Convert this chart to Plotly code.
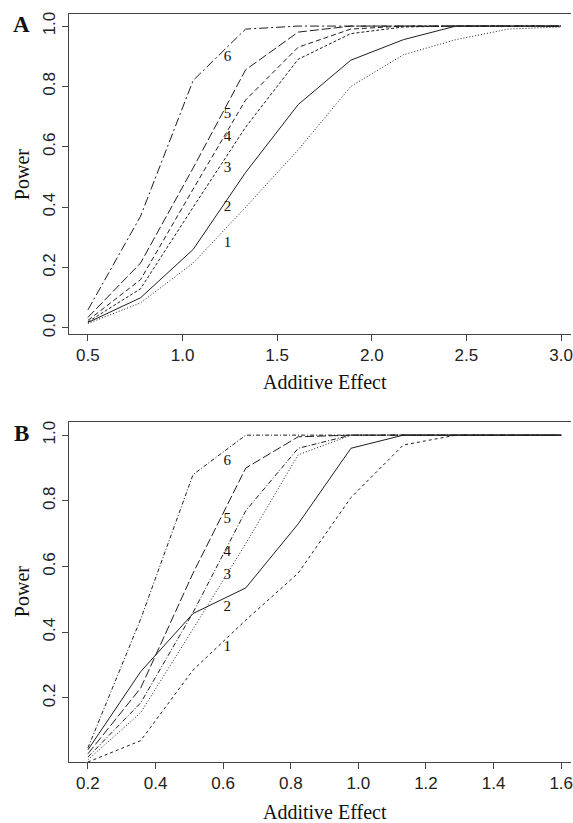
import plotly.graph_objects as go

# ---------------- data ----------------
effect_a = [0.5, 0.778, 1.056, 1.333, 1.611, 1.889, 2.167, 2.444, 2.722, 3.0]
power_a_1 = [0.015, 0.083, 0.215, 0.40, 0.59, 0.80, 0.905, 0.955, 0.99, 0.997]
power_a_2 = [0.018, 0.10, 0.26, 0.515, 0.74, 0.887, 0.955, 1.0, 1.0, 1.0]
power_a_3 = [0.02, 0.13, 0.40, 0.665, 0.89, 0.975, 0.997, 1.0, 1.0, 1.0]
power_a_4 = [0.025, 0.16, 0.46, 0.755, 0.93, 0.99, 1.0, 1.0, 1.0, 1.0]
power_a_5 = [0.035, 0.215, 0.53, 0.855, 0.98, 1.0, 1.0, 1.0, 1.0, 1.0]
power_a_6 = [0.06, 0.37, 0.82, 0.99, 1.0, 1.0, 1.0, 1.0, 1.0, 1.0]

effect_b = [0.2, 0.356, 0.511, 0.667, 0.822, 0.978, 1.133, 1.289, 1.444, 1.6]
power_b_1 = [0.005, 0.07, 0.285, 0.437, 0.58, 0.81, 0.97, 1.0, 1.0, 1.0]
power_b_2 = [0.042, 0.28, 0.457, 0.535, 0.73, 0.96, 1.0, 1.0, 1.0, 1.0]
power_b_3 = [0.012, 0.155, 0.41, 0.67, 0.94, 1.0, 1.0, 1.0, 1.0, 1.0]
power_b_4 = [0.02, 0.185, 0.46, 0.77, 0.96, 1.0, 1.0, 1.0, 1.0, 1.0]
power_b_5 = [0.03, 0.23, 0.58, 0.90, 0.995, 1.0, 1.0, 1.0, 1.0, 1.0]
power_b_6 = [0.048, 0.44, 0.88, 1.0, 1.0, 1.0, 1.0, 1.0, 1.0, 1.0]

curve_labels = ["1", "2", "3", "4", "5", "6"]
label_x_a = 1.237
label_y_a = [0.281, 0.401, 0.530, 0.632, 0.709, 0.897]
label_x_b = 0.612
label_y_b = [0.355, 0.477, 0.575, 0.645, 0.745, 0.92]

x_ticks_a = [0.5, 1.0, 1.5, 2.0, 2.5, 3.0]
y_ticks_a = [0.0, 0.2, 0.4, 0.6, 0.8, 1.0]
x_ticks_b = [0.2, 0.4, 0.6, 0.8, 1.0, 1.2, 1.4, 1.6]
y_ticks_b = [0.2, 0.4, 0.6, 0.8, 1.0]

# ---------------- styles ----------------
dash_a = ["1px,2px", "solid", "3px,2px", "5px,3px", "9px,3px", "9px,3px,2px,3px"]
dash_b = ["3px,3px", "solid", "1px,2px", "5px,2px,1px,2px", "9px,3px", "4px,2px,1px,2px"]
line_col = "#1e1e1e"

fig = go.Figure()
series_a = [power_a_1, power_a_2, power_a_3, power_a_4, power_a_5, power_a_6]
series_b = [power_b_1, power_b_2, power_b_3, power_b_4, power_b_5, power_b_6]
for ys, d in zip(series_a, dash_a):
    fig.add_trace(go.Scatter(x=effect_a, y=ys, mode="lines", xaxis="x", yaxis="y",
                             line=dict(color=line_col, width=1, dash=d), showlegend=False,
                             hoverinfo="skip"))
for ys, d in zip(series_b, dash_b):
    fig.add_trace(go.Scatter(x=effect_b, y=ys, mode="lines", xaxis="x2", yaxis="y2",
                             line=dict(color=line_col, width=1, dash=d), showlegend=False,
                             hoverinfo="skip"))

label_font = dict(family="Liberation Serif, Times New Roman, serif", size=15, color="#111")
fig.add_trace(go.Scatter(x=[label_x_a] * 6, y=label_y_a, text=curve_labels, mode="text",
                         xaxis="x", yaxis="y", textfont=label_font, showlegend=False,
                         hoverinfo="skip", cliponaxis=False))
fig.add_trace(go.Scatter(x=[label_x_b] * 6, y=label_y_b, text=curve_labels, mode="text",
                         xaxis="x2", yaxis="y2", textfont=label_font, showlegend=False,
                         hoverinfo="skip", cliponaxis=False))

W, H = 573, 823
L, R, T, B = 69, 0, 14, 61
ph = H - T - B
pw = W - L - R

def ydom(top_px, bot_px):
    return [(H - B - bot_px) / ph, (H - B - top_px) / ph]

tick_font = dict(family="Liberation Sans, Arial, sans-serif", size=17, color="#222")
axis_common = dict(showgrid=False, zeroline=False, showline=True, linecolor="#444",
                   linewidth=1, ticks="outside", ticklen=6, tickcolor="#444",
                   tickfont=tick_font, ticklabeloverflow="allow")

fig.update_layout(
    width=W, height=H,
    margin=dict(l=L, r=R, t=T, b=B),
    paper_bgcolor="white", plot_bgcolor="white",
    xaxis=dict(domain=[0, 1], anchor="y", range=[0.4, 3.0526], tickvals=x_ticks_a,
               ticktext=["%.1f" % v for v in x_ticks_a], mirror=True, **axis_common),
    yaxis=dict(domain=ydom(14, 334), anchor="x", range=[-0.02, 1.04], tickvals=y_ticks_a,
               ticktext=["%.1f" % v for v in y_ticks_a], tickangle=-90, **axis_common),
    xaxis2=dict(domain=[0, 1], anchor="y2", range=[0.144, 1.629], tickvals=x_ticks_b,
                ticktext=["%.1f" % v for v in x_ticks_b], mirror=True, **axis_common),
    yaxis2=dict(domain=ydom(422, 762), anchor="x2", range=[0.005, 1.04], tickvals=y_ticks_b,
                ticktext=["%.1f" % v for v in y_ticks_b], tickangle=-90, **axis_common),
)

serif = "Liberation Serif, Times New Roman, serif"

def px_x(p):
    return (p - L) / pw

def px_y(p):
    return (H - B - p) / ph

annos = [
    dict(text="<b>A</b>", x=px_x(21), y=px_y(25), size=23, angle=0),
    dict(text="<b>B</b>", x=px_x(21), y=px_y(433), size=23, angle=0),
    dict(text="Power", x=px_x(22), y=px_y(175), size=20, angle=-90),
    dict(text="Power", x=px_x(22), y=px_y(592), size=20, angle=-90),
    dict(text="Additive Effect", x=px_x(326), y=px_y(382), size=20, angle=0),
    dict(text="Additive Effect", x=px_x(326), y=px_y(812), size=20, angle=0),
]
for a in annos:
    fig.add_annotation(text=a["text"], x=a["x"], y=a["y"], xref="paper", yref="paper",
                       xanchor="center", yanchor="middle", showarrow=False,
                       textangle=a["angle"], font=dict(family=serif, size=a["size"], color="#111"))

fig.write_html("out.html")
